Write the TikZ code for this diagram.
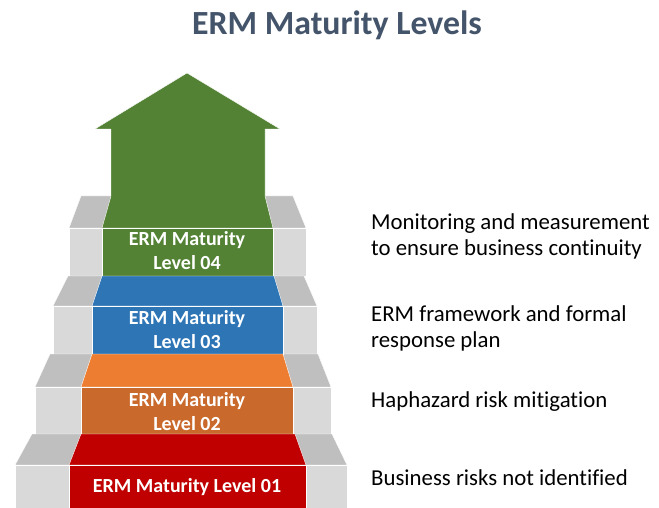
\documentclass[tikz,border=0pt]{standalone}
\usepackage{fontspec}
\setmainfont{Carlito}[Ligatures=NoCommon]
\definecolor{titleblue}{HTML}{44546A}
\definecolor{treadgrey}{HTML}{BFBFBF}
\definecolor{risergrey}{HTML}{D9D9D9}
\definecolor{levelgreen}{HTML}{548235}
\definecolor{levelblue}{HTML}{2E75B6}
\definecolor{levelorange}{HTML}{ED7D31}
\definecolor{leveldarkorange}{HTML}{C9692C}
\definecolor{levelred}{HTML}{C00000}
\tikzset{
  edge/.style={draw=white,line width=0.4pt},
  tread/.style={edge,fill=treadgrey},
  riser/.style={edge,fill=risergrey},
  leveltext/.style={text=white,font=\fontsize{20}{24}\selectfont\bfseries,align=center,inner sep=0pt},
  desc/.style={font=\fontsize{22.8}{26}\selectfont,align=left,anchor=base west,inner sep=0pt}
}
\begin{document}
\begin{tikzpicture}[x=1pt,y=-1pt]
    \useasboundingbox[fill=white] (0,0) rectangle (659,508);
    % title
    \node[anchor=base,text=titleblue,font=\fontsize{33.8}{38}\selectfont\bfseries] (title) at (337,35) {ERM Maturity Levels};
    % grey steps, top to bottom
    \draw[tread] (81,196) -- (293,196) -- (306,228) -- (69,228) -- cycle;
    \draw[riser] (69,228) rectangle (306,276);
    \draw[tread] (68,276) -- (304,276) -- (317,306) -- (53,306) -- cycle;
    \draw[riser] (53,306) rectangle (317,354);
    \draw[tread] (50,354) -- (318,354) -- (331,387) -- (35,387) -- cycle;
    \draw[riser] (35,387) rectangle (331,434);
    \draw[tread] (32,434) -- (332,434) -- (347,465) -- (15,465) -- cycle;
    \draw[riser] (15,465) rectangle (347,508);
    % level 04 with the arrow
    \draw[edge,fill=levelgreen] (102,228) -- (111,196) -- (111,129) -- (95,129) -- (187,73)
        -- (280,129) -- (265,129) -- (265,196) -- (273,228) -- cycle;
    \draw[edge,fill=levelgreen] (102,228) rectangle (273,276);
    % level 03
    \draw[edge,fill=levelblue] (102,276) -- (274,276) -- (283,306) -- (92,306) -- cycle;
    \draw[edge,fill=levelblue] (92,306) rectangle (283,354);
    % level 02
    \draw[edge,fill=levelorange] (92,354) -- (283,354) -- (293,387) -- (81,387) -- cycle;
    \draw[edge,fill=leveldarkorange] (81,387) rectangle (293,434);
    % level 01
    \draw[edge,fill=levelred] (81,434) -- (295,434) -- (306,465) -- (69,465) -- cycle;
    \draw[edge,fill=levelred] (69,465) rectangle (306,508);
    % level labels
    \node[leveltext] (level4) at (187,251) {ERM Maturity\\Level 04};
    \node[leveltext] (level3) at (187,330) {ERM Maturity\\Level 03};
    \node[leveltext] (level2) at (187,412) {ERM Maturity\\Level 02};
    \node[leveltext] (level1) at (187,487) {ERM Maturity Level 01};
    % descriptions
    \node[desc] (desc4) at (371,255) {Monitoring and measurement\\to ensure business continuity};
    \node[desc] (desc3) at (371,347) {ERM framework and formal\\response plan};
    \node[desc] (desc2) at (371,407) {Haphazard risk mitigation};
    \node[desc] (desc1) at (371,485) {Business risks not identified};
\end{tikzpicture}
\end{document}
